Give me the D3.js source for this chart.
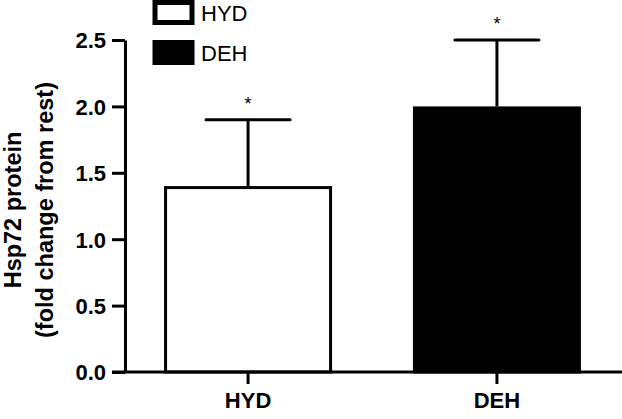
<!DOCTYPE html>
<html>
<head>
<meta charset="utf-8">
<script src="https://cdn.jsdelivr.net/npm/d3@7"></script>
<style>
  body { margin: 0; background: #fff; }
  text { font-family: Arial, "Liberation Sans", sans-serif; }
</style>
</head>
<body>
<div id="chart"></div>
<script>
// values
const groups = ['HYD', 'DEH']
const means = [1.4, 2.0]
const errs = [0.5, 0.5]
const fills = ['#fff', '#000']
const yTicks = [0, 0.5, 1.0, 1.5, 2.0, 2.5]

const W = 622, H = 419
const margin = {top: 40, right: 2, bottom: 47, left: 125}

const svg = d3.select('#chart').append('svg')
  .attr('width', W).attr('height', H)

const y = d3.scaleLinear().domain([0, 2.5]).range([H - margin.bottom, margin.top])
const x = d3.scaleBand().domain(groups).range([margin.left, W - margin.right])
  .paddingInner(0.325).paddingOuter(0.157)

// bars
svg.selectAll('rect.bar').data(groups).enter()
  .append('rect')
  .attr('class', 'bar')
  .attr('x', d => x(d) + 1.5)
  .attr('y', (d, i) => y(means[i]) + 1.5)
  .attr('width', x.bandwidth() - 3)
  .attr('height', (d, i) => y(0) - y(means[i]) - 1.5)
  .attr('fill', (d, i) => fills[i])
  .attr('stroke', '#000')
  .attr('stroke-width', 3)

// error bars (upper only)
const cap = 42
groups.forEach((g, i) => {
  let cx = x(g) + x.bandwidth() / 2
  svg.append('line')
    .attr('x1', cx).attr('x2', cx)
    .attr('y1', y(means[i])).attr('y2', y(means[i] + errs[i]))
    .attr('stroke', '#000').attr('stroke-width', 3)
  svg.append('line')
    .attr('x1', cx - cap).attr('x2', cx + cap)
    .attr('y1', y(means[i] + errs[i])).attr('y2', y(means[i] + errs[i]))
    .attr('stroke', '#000').attr('stroke-width', 3).attr('stroke-linecap', 'round')
  svg.append('text')
    .attr('x', cx).attr('y', y(means[i] + errs[i]) - 10)
    .attr('text-anchor', 'middle')
    .style('font-size', '18px')
    .text('*')
})

// y axis
const yAxis = svg.append('g')
  .attr('transform', `translate(${margin.left},0)`)
  .call(d3.axisLeft(y).tickValues(yTicks).tickFormat(d3.format('.1f')).tickSize(13).tickSizeOuter(0))
yAxis.select('.domain').attr('stroke-width', 3)
yAxis.selectAll('.tick line').attr('stroke-width', 3)
yAxis.selectAll('.tick text')
  .style('font-size', '22px').style('font-weight', 'bold')
  .style('font-family', 'Arial, "Liberation Sans", sans-serif')
  .attr('x', -19).attr('dy', '0.36em')

// x axis
const xAxis = svg.append('g')
  .attr('transform', `translate(0,${y(0)})`)
  .call(d3.axisBottom(x).tickSize(12).tickSizeOuter(0))
xAxis.select('.domain').attr('d', `M112,0H622`).attr('stroke-width', 3)
xAxis.selectAll('.tick line').attr('stroke-width', 3)
xAxis.selectAll('.tick text')
  .style('font-size', '22px').style('font-weight', 'bold')
  .style('font-family', 'Arial, "Liberation Sans", sans-serif')
  .attr('y', 20).attr('dy', '0.71em')

// y label
const yl = svg.append('text')
  .attr('transform', 'translate(0,210) rotate(-90)')
  .attr('text-anchor', 'middle')
  .style('font-size', '23.5px').style('font-weight', 'bold')
yl.append('tspan').attr('x', 0).attr('y', 21).text('Hsp72 protein')
yl.append('tspan').attr('x', 0).attr('y', 53).text('(fold change from rest)')

// legend
const legend = svg.append('g')
groups.forEach((g, i) => {
  legend.append('rect')
    .attr('x', 155).attr('y', 2.5 + i * 40)
    .attr('width', 37).attr('height', 20)
    .attr('fill', fills[i]).attr('stroke', '#000').attr('stroke-width', 5)
  legend.append('text')
    .attr('x', 201).attr('y', 21 + i * 40)
    .style('font-size', '22px')
    .text(g)
})
</script>
</body>
</html>
